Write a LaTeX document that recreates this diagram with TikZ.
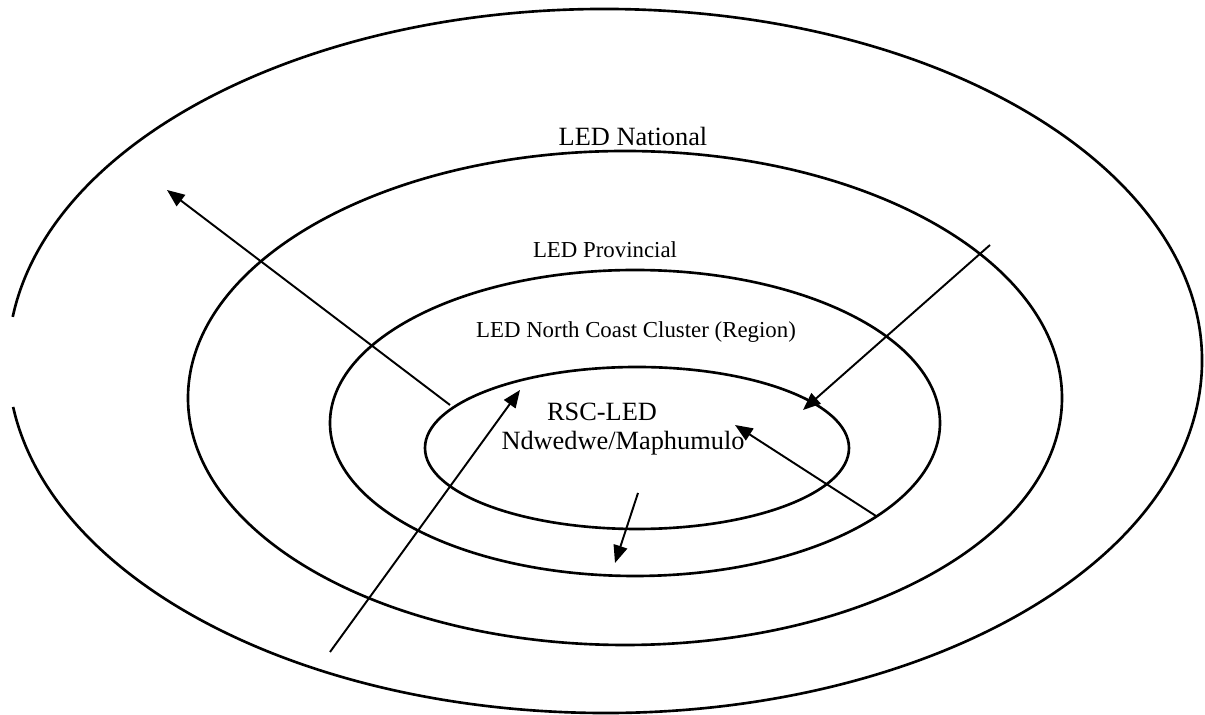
\documentclass[tikz,border=0pt]{standalone}
\usepackage{fontspec}
\setmainfont{Liberation Serif}
\usetikzlibrary{arrows.meta}

\begin{document}
\begin{tikzpicture}[x=0.02cm, y=-0.02cm,
    ring/.style={line width=1.5pt},
    flow/.style={line width=1.1pt, -{Triangle[length=10pt,width=8pt]}},
    lbl/.style={font=\fontsize{13}{15}\selectfont, inner sep=0pt}]

    \useasboundingbox (0,0) rectangle (1205,715);

    % levels, outer to inner (the outer one is open on the left)
    \draw[ring] (605,361) ++(187.2:597 and 352) arc[start angle=187.2, end angle=532.5, x radius=597, y radius=352];
    \draw[ring] (625,398) ellipse[x radius=437, y radius=247];
    \draw[ring] (635,423) ellipse[x radius=305, y radius=153];
    \draw[ring] (637,448) ellipse[x radius=212, y radius=81];

    \node[lbl, font=\fontsize{15}{17}\selectfont] (national) at (633,136) {LED National};
    \node[lbl] (provincial) at (605,250) {LED Provincial};
    \node[lbl] (cluster) at (636,332) {LED North Coast Cluster (Region)};
    \node[lbl, font=\fontsize{15}{17}\selectfont] (rsc) at (602,412) {RSC-LED};
    \node[lbl, font=\fontsize{15}{17}\selectfont] (ndwedwe) at (623,443) {Ndwedwe/Maphumulo};

    \coordinate (outA) at (450,405);
    \coordinate (tipA) at (167,190);
    \coordinate (outB) at (990,245);
    \coordinate (tipB) at (803,410);
    \coordinate (outC) at (876,516);
    \coordinate (tipC) at (735,425);
    \coordinate (outD) at (638,493);
    \coordinate (tipD) at (615,563);
    \coordinate (outE) at (330,652);
    \coordinate (tipE) at (520,390);

    \draw[flow] (outA) -- (tipA);
    \draw[flow] (outB) -- (tipB);
    \draw[flow] (outC) -- (tipC);
    \draw[flow] (outD) -- (tipD);
    \draw[flow] (outE) -- (tipE);

\end{tikzpicture}
\end{document}
